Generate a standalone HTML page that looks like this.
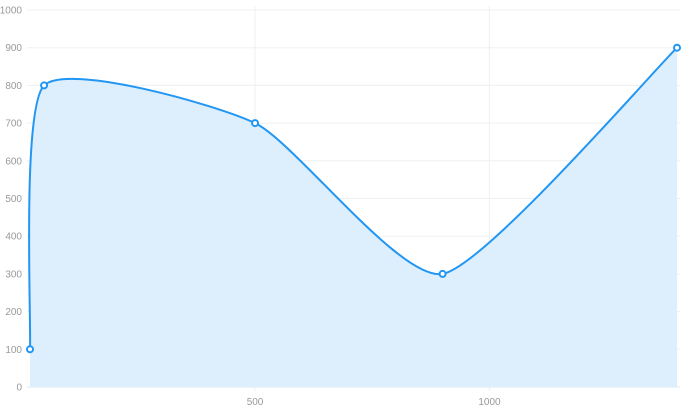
<!DOCTYPE html>
<html><head><meta charset="utf-8"><style>
html,body{margin:0;padding:0;background:#fff;width:692px;height:411px;overflow:hidden}
svg{display:block}
text{font-family:"Liberation Sans",sans-serif;font-size:10px;fill:#999}
</style></head><body>
<svg id="chart" width="692" height="411" viewBox="0 0 692 411">
<g id="grid"></g>
<g id="axes"></g>
<g id="series"></g>
</svg>
<script>
const xValues = [20, 50, 500, 900, 1400];
const yValues = [100, 800, 700, 300, 900];
const yTicks = [0,100,200,300,400,500,600,700,800,900,1000];
const xTicks = [500, 1000];
const NS='http://www.w3.org/2000/svg';
const X0=30,X1=677,Y0=387,Y1=10;
const xMin=20,xMax=1400;
const K=0.1;
function sx(v){return X0+(v-xMin)/(xMax-xMin)*(X1-X0);}
function sy(v){return Y0+(v/1000)*(Y1-Y0);}
function mk(tag,attrs,parent){const e=document.createElementNS(NS,tag);for(const k in attrs)e.setAttribute(k,attrs[k]);parent.appendChild(e);return e;}
const grid=document.getElementById('grid'),axes=document.getElementById('axes'),series=document.getElementById('series');
yTicks.forEach(t=>{
  const l=mk('line',{x1:27,x2:680,y1:sy(t),y2:sy(t),stroke:t===0?'#e3e8ee':'#edf0f3','stroke-width':1},grid);
  
  
  const tx=mk('text',{x:22,y:sy(t)+3.5,'text-anchor':'end'},axes);
  tx.textContent=t;
  
  
});
xTicks.forEach(t=>{
  const l=mk('line',{x1:sx(t),x2:sx(t),y1:Y1-4,y2:Y0+4,stroke:'#edf0f3','stroke-width':1},grid);
  
  
  const tx=mk('text',{x:sx(t),y:405,'text-anchor':'middle'},axes);
  tx.textContent=t;
  
  
});
const pts=xValues.map((x,i)=>[sx(x),sy(yValues[i])]);
let d='M'+pts[0][0]+','+pts[0][1];
for(let i=0;i<pts.length-1;i++){
  const p0=pts[Math.max(0,i-1)],p1=pts[i],p2=pts[i+1],p3=pts[Math.min(pts.length-1,i+2)];
  const c1=[p1[0]+(p2[0]-p0[0])*K,p1[1]+(p2[1]-p0[1])*K];
  const c2=[p2[0]-(p3[0]-p1[0])*K,p2[1]-(p3[1]-p1[1])*K];
  d+=' C'+c1[0]+','+c1[1]+' '+c2[0]+','+c2[1]+' '+p2[0]+','+p2[1];
}
const area=mk('path',{d:d+' L'+pts[pts.length-1][0]+','+Y0+' L'+pts[0][0]+','+Y0+' Z',fill:'#ddeefc'},series);


const line=mk('path',{d:d,fill:'none',stroke:'#2196f3','stroke-width':2},series);


pts.forEach(p=>{
  const c=mk('circle',{cx:p[0],cy:p[1],r:3,fill:'#fff',stroke:'#2196f3','stroke-width':2},series);
  
  
});
</script>
</body></html>
